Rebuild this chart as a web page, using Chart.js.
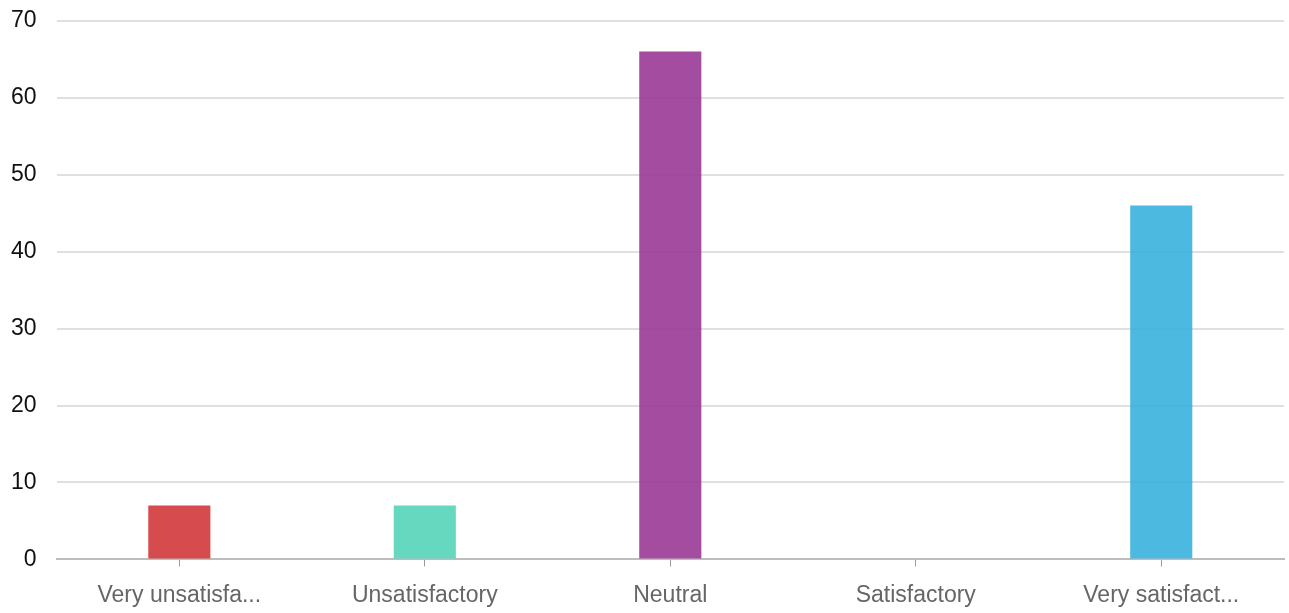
<!DOCTYPE html>
<html>
<head>
<meta charset="utf-8">
<script src="https://cdn.jsdelivr.net/npm/chart.js@4/dist/chart.umd.min.js"></script>
<style>
    html, body { margin: 0; padding: 0; background: #fff; }
    #wrap { width: 1289px; height: 613px; }
</style>
</head>
<body>
<div id="wrap"><canvas id="chart"></canvas></div>
<script>
const categories = ['Very unsatisfa...', 'Unsatisfactory', 'Neutral', 'Satisfactory', 'Very satisfact...'];
const responses = [7, 7, 66, 0, 46];
const barColours = ['rgba(209,55,58,0.9)', 'rgba(87,212,185,0.9)', 'rgba(154,56,149,0.9)', 'rgba(120,120,120,0.9)', 'rgba(56,177,221,0.9)'];
const yTicks = [0, 10, 20, 30, 40, 50, 60, 70];

const fontFamily = '"Liberation Sans Narrow", "Liberation Sans", Arial, sans-serif';

const ctx = document.getElementById('chart').getContext('2d');
var data = {
    labels: categories,
    datasets: [{
        label: 'Responses',
        data: responses,
        backgroundColor: barColours,
        borderWidth: 0,
        barPercentage: 0.253,
        categoryPercentage: 1
    }]
};
var options = {
    responsive: true,
    maintainAspectRatio: false,
    animation: false,
    layout: {
        padding: { top: 0, right: 5, bottom: -11, left: 4 }
    },
    plugins: {
        legend: { display: false },
        tooltip: { enabled: false }
    },
    scales: {
        x: {
            grid: {
                offset: false,
                drawOnChartArea: false,
                drawTicks: true,
                tickLength: 7,
                color: '#999'
            },
            border: { color: '#bdbdbd', width: 2 },
            ticks: {
                color: '#666',
                padding: 15,
                maxRotation: 0,
                font: { family: fontFamily, size: 23 }
            }
        },
        y: {
            min: 0,
            max: 70,
            afterBuildTicks: function (axis) {
                axis.ticks = yTicks.map(v => ({ value: v }));
            },
            grid: {
                color: '#e0e0e0',
                lineWidth: 2,
                drawTicks: true,
                tickLength: 13,
                tickColor: 'rgba(0,0,0,0)'
            },
            border: { display: false },
            ticks: {
                color: '#111',
                padding: 7,
                font: { family: fontFamily, size: 23 }
            }
        }
    }
};
const responseChart = new Chart(ctx, {
    type: 'bar',
    data: data,
    options: options
});
</script>
</body>
</html>
